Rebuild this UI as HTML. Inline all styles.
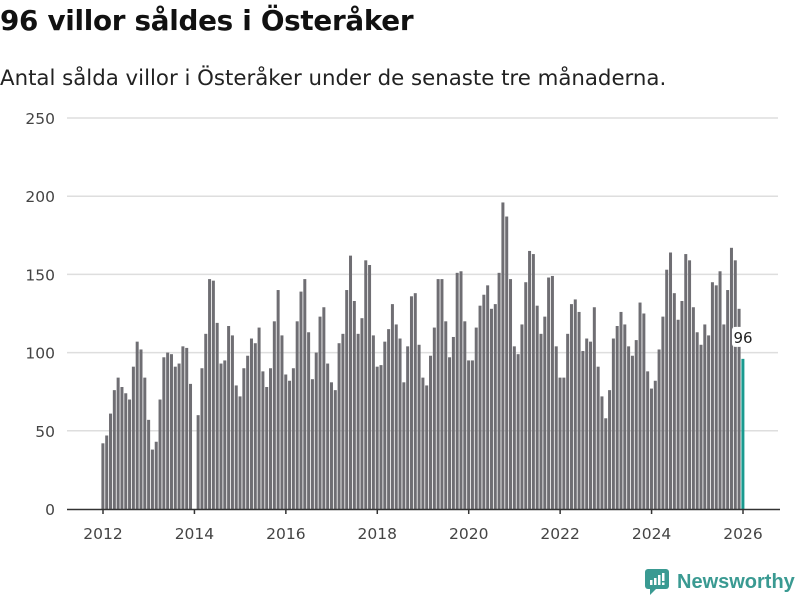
<!DOCTYPE html>
<html><head><meta charset="utf-8"><style>
body{margin:0;width:800px;height:600px;background:#fff;font-family:"DejaVu Sans","Liberation Sans",sans-serif;overflow:hidden;position:relative}
h1{position:absolute;left:0;top:4px;margin:0;font-size:27.8px;font-weight:bold;color:#111;letter-spacing:-0.3px}
p.sub{position:absolute;left:0;top:66px;margin:0;font-size:21.3px;color:#222}
</style></head><body>
<h1>96 villor såldes i Österåker</h1>
<p class="sub">Antal sålda villor i Österåker under de senaste tre månaderna.</p>
<svg id="chart" width="800" height="600" style="position:absolute;left:0;top:0;font-family:'DejaVu Sans',sans-serif"></svg>
<div style="position:absolute;left:645px;top:569px;display:flex;align-items:center;">
<svg width="24" height="26"><rect x="0" y="0" width="24" height="20" rx="3" fill="#3a9a92"/><polygon points="5,20 11,20 5,26" fill="#3a9a92"/><rect x="5" y="11" width="2.5" height="5" fill="#fff"/><rect x="9" y="9" width="2.5" height="7" fill="#fff"/><rect x="13" y="6" width="2.5" height="10" fill="#fff"/><rect x="17" y="4" width="2.5" height="8" fill="#fff"/><rect x="17" y="13.5" width="2.5" height="2.5" fill="#fff"/></svg>
<span style="margin-left:8px;font-size:20px;color:#3a9a92;font-weight:bold;font-family:'Liberation Sans',sans-serif">Newsworthy</span></div>
<script>
const values = [42,47,61,76,84,78,74,70,91,107,102,84,
57,38,43,70,97,100,99,91,93,104,103,80,
0,60,90,112,147,146,119,93,95,117,111,79,
72,90,98,109,106,116,88,78,90,120,140,111,
86,82,90,120,139,147,113,83,100,123,129,93,
81,76,106,112,140,162,133,112,122,159,156,111,
91,92,107,115,131,118,109,81,104,136,138,105,
84,79,98,116,147,147,120,97,110,151,152,120,
95,95,116,130,137,143,128,131,151,196,187,147,
104,99,118,145,165,163,130,112,123,148,149,104,
84,84,112,131,134,126,101,109,107,129,91,72,
58,76,109,117,126,118,104,98,108,132,125,88,
77,82,102,123,153,164,138,121,133,163,159,129,
113,105,118,111,145,143,152,118,140,167,159,128,
96];
const yTicks = [0,50,100,150,200,250];
const xTicks = [2012,2014,2016,2018,2020,2022,2024,2026];
const startYear = 2012;
const svg = document.getElementById('chart');
const NS = 'http://www.w3.org/2000/svg';
const y = v => 509 - v * (391 / 250);
const x = m => 103 + m * (640 / 168);
function mk(tag, attrs){const e=document.createElementNS(NS,tag);for(const k in attrs)e.setAttribute(k,attrs[k]);svg.appendChild(e);return e;}
yTicks.forEach(t=>{
  if(t>0){const g=mk('line',{x1:67,x2:778,y1:y(t),y2:y(t),stroke:'#dedede','stroke-width':1.5});
  
  }
  const l=mk('text',{x:55,y:y(t)+6,'text-anchor':'end','font-size':15.5,fill:'#444'});
  l.textContent=t;
  
  
});
values.forEach((v,i)=>{
  const last=i===values.length-1;
  const r=mk('rect',{x:x(i)-1.6,y:y(v),width:3,height:509-y(v),fill:last?'#1a9a8f':'#6f6e73'});
  
  
});
const ax=mk('line',{x1:67,x2:780,y1:509.5,y2:509.5,stroke:'#333','stroke-width':1.5});


xTicks.forEach(t=>{
  const px=x((t-startYear)*12);
  const tk=mk('line',{x1:px,x2:px,y1:509,y2:514,stroke:'#333','stroke-width':1.5});
  
  
  const l=mk('text',{x:px,y:539,'text-anchor':'middle','font-size':15.5,fill:'#444'});
  l.textContent=t;
  
  
});
const lv=values[values.length-1];
const lx=x(values.length-1);
const bg=mk('rect',{x:lx-11,y:y(lv)-32,width:22,height:20,rx:3,fill:'#fff'});


const vl=mk('text',{x:lx,y:y(lv)-16,'text-anchor':'middle','font-size':15,fill:'#222'});
vl.textContent=lv;


</script>
</body></html>
